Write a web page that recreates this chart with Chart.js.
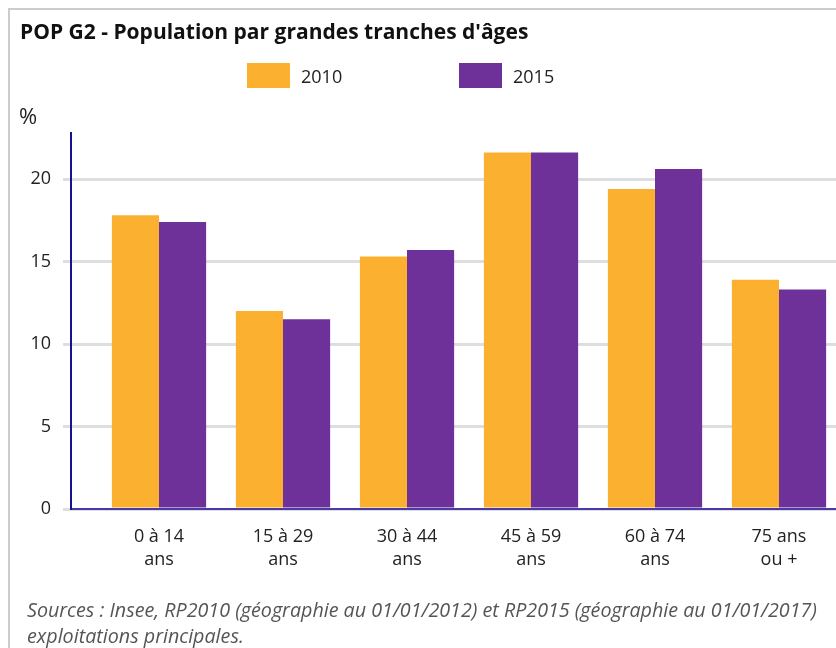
<!DOCTYPE html>
<html lang="fr">
<head>
<meta charset="utf-8">
<title>POP G2 - Population par grandes tranches d'âges</title>
<script src="https://cdn.jsdelivr.net/npm/chart.js@4.4.1/dist/chart.umd.min.js"></script>
<style>
    html, body { margin: 0; padding: 0; background: #fff; overflow: hidden; width: 836px; height: 648px; }
    body { font-family: 'Open Sans', sans-serif; color: #222; position: relative; }
    .frame { position: absolute; left: 8px; top: 8px; width: 900px; height: 700px; border: 2px solid #cccccc; box-sizing: border-box; }
    .title { position: absolute; left: 20px; top: 17px; font-size: 21px; font-weight: bold; color: #111; white-space: nowrap; }
    .unit { position: absolute; left: 19px; top: 100px; font-size: 22px; color: #222; }
    #legend { position: absolute; left: 247px; top: 63px; display: flex; }
    #legend .item { display: flex; align-items: center; width: 212px; font-size: 18px; color: #222; }
    #legend .box { width: 43px; height: 25px; margin-right: 11px; }
    .source { position: absolute; left: 27px; top: 597px; font-size: 19.7px; font-style: italic; color: #555; line-height: 26px; white-space: nowrap; }
    #chart { position: absolute; left: 0; top: 0; }
</style>
</head>
<body>
<div class="frame"></div>
<canvas id="chart" width="860" height="648"></canvas>
<div class="title">POP G2 - Population par grandes tranches d'âges</div>
<div id="legend"></div>
<div class="unit">%</div>
<div class="source">Sources : Insee, RP2010 (géographie au 01/01/2012) et RP2015 (géographie au 01/01/2017)<br>exploitations principales.</div>

<script>
const categories = [['0 à 14', 'ans'], ['15 à 29', 'ans'], ['30 à 44', 'ans'], ['45 à 59', 'ans'], ['60 à 74', 'ans'], ['75 ans', 'ou +']];
const years = ['2010', '2015'];
const values2010 = [17.8, 12.0, 15.3, 21.6, 19.4, 13.9];
const values2015 = [17.4, 11.5, 15.7, 21.6, 20.6, 13.3];
const yTicks = [0, 5, 10, 15, 20];

const orange = '#fbb12f';
const purple = '#6e3199';
const yAxisGap = 26;   // y axis line sits a bit left of the first category

Chart.defaults.font.family = "'Open Sans', sans-serif";
Chart.defaults.color = '#222';

// blue axis lines (vertical at the left, horizontal at zero)
const axisLines = {
    id: 'axisLines',
    afterDatasetsDraw(chart) {
        const { ctx, chartArea, scales } = chart;
        const x0 = chartArea.left - yAxisGap;
        const yZero = scales.y.getPixelForValue(0);
        ctx.save();
        ctx.lineWidth = 2;
        ctx.strokeStyle = '#4a3aa8';
        ctx.beginPath();
        ctx.moveTo(x0, yZero);
        ctx.lineTo(chartArea.right, yZero);
        ctx.stroke();
        ctx.strokeStyle = '#16128f';
        ctx.beginPath();
        ctx.moveTo(x0, chartArea.top);
        ctx.lineTo(x0, yZero + 1);
        ctx.stroke();
        ctx.restore();
    }
};

const chart = new Chart(document.getElementById('chart'), {
    type: 'bar',
    data: {
        labels: categories,
        datasets: [{
            label: years[0],
            data: values2010,
            backgroundColor: orange
        },
        {
            label: years[1],
            data: values2015,
            backgroundColor: purple
        }]
    },
    options: {
        responsive: false,
        animation: false,
        layout: {
            padding: { top: 132, right: 19, bottom: 0, left: 0 }
        },
        datasets: {
            bar: {
                categoryPercentage: 0.76,
                barPercentage: 1.0
            }
        },
        plugins: {
            legend: { display: false },
            tooltip: { enabled: false }
        },
        scales: {
            x: {
                grid: { display: false },
                border: { display: false },
                ticks: {
                    padding: 8,
                    maxRotation: 0,
                    font: { size: 18, lineHeight: 1.28 },
                    color: '#222'
                },
                afterFit: scale => { scale.height = 139; }
            },
            y: {
                min: 0,
                max: 22.85,
                afterBuildTicks: scale => { scale.ticks = yTicks.map(v => ({ value: v })); },
                afterFit: scale => { scale.width = 97; },
                border: { display: false },
                grid: {
                    color: '#dedede',
                    tickColor: '#dedede',
                    lineWidth: 3,
                    tickLength: 34
                },
                ticks: {
                    padding: 12,
                    font: { size: 18 },
                    color: '#222'
                }
            }
        }
    },
    plugins: [axisLines]
});

// legend built from the datasets
const legend = document.getElementById('legend');
chart.data.datasets.forEach(ds => {
    const item = document.createElement('div');
    item.className = 'item';
    item.innerHTML = `<span class="box" style="background:${ds.backgroundColor}"></span><span>${ds.label}</span>`;
    legend.appendChild(item);
});
</script>
</body>
</html>
